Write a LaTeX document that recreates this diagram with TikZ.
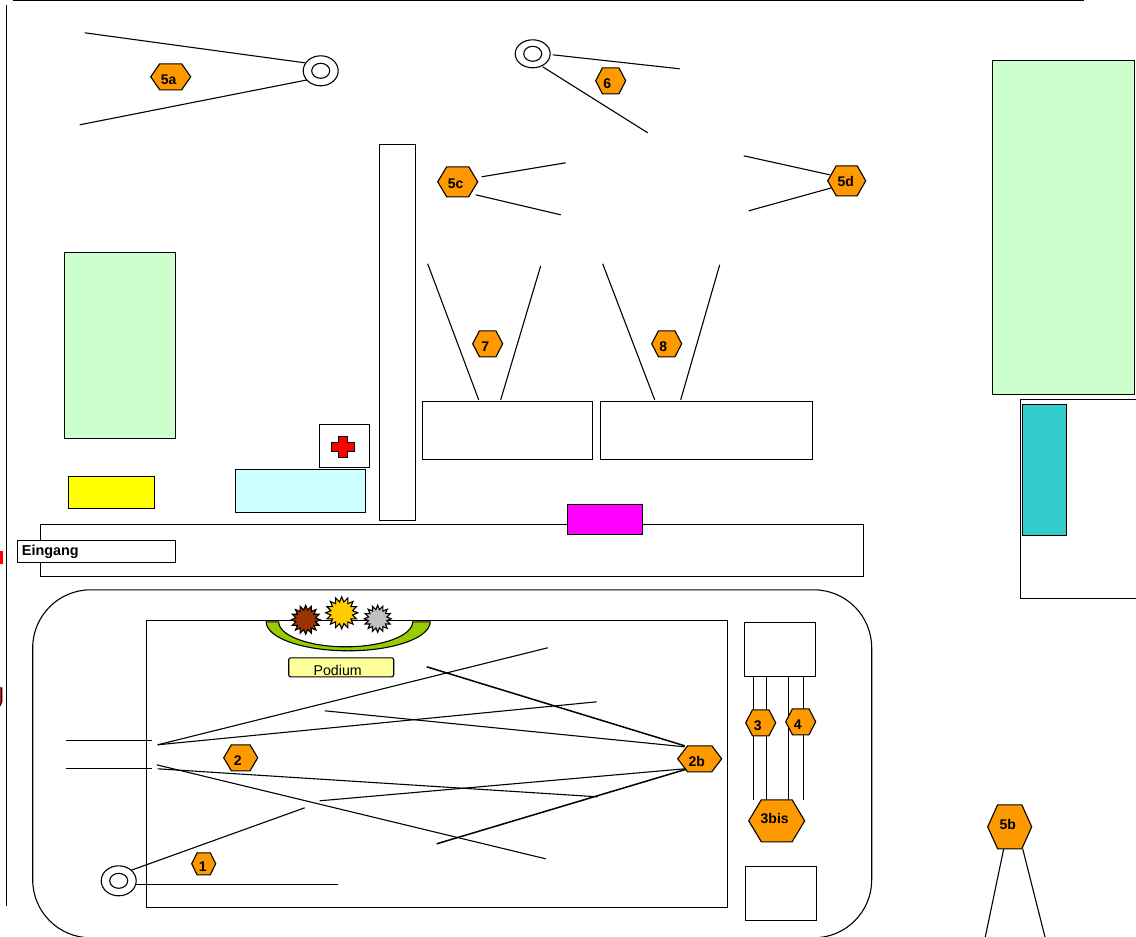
\documentclass[tikz,border=0pt]{standalone}
\usepackage{fontspec}
\setmainfont{Liberation Sans}
\usepackage{tikz}
\usetikzlibrary{shapes.geometric}
\definecolor{roomgreen}{HTML}{CCFFCC}
\definecolor{roomcyan}{HTML}{CCFFFF}
\definecolor{roomteal}{HTML}{33CCCC}
\definecolor{roomyellow}{HTML}{FFFF00}
\definecolor{roommagenta}{HTML}{FF00FF}
\definecolor{markorange}{HTML}{FF9900}
\definecolor{podiumyellow}{HTML}{FFFF99}
\definecolor{podiumgreen}{HTML}{99CC00}
\definecolor{starbrown}{HTML}{993300}
\definecolor{stargold}{HTML}{FFCC00}
\definecolor{stargrey}{HTML}{C0C0C0}
\tikzset{
  plan/.style={line width=1.1pt, black},
  hexmark/.style={plan, fill=markorange},
  hexlabel/.style={font=\bfseries\fontsize{14}{15}\selectfont, inner sep=0pt},
  burst/.style={plan, draw, star, star points=16, star point ratio=1.45, inner sep=0pt, minimum size=#1},
}
\newcommand\HexMark[8]{% name, x, y, half width, half height, label x, label y, text
  \draw[hexmark] (#2-#4, #3)--(#2-0.55*#4, #3-#5)--(#2+0.55*#4, #3-#5)
    --(#2+#4, #3)--(#2+0.55*#4, #3+#5)--(#2-0.55*#4, #3+#5)--cycle;
  \node[hexlabel] (#1) at (#6, #7) {#8};
}
\newcommand\RingMark[3]{% x, y, vertical radius
  \draw[plan, fill=white] (#1, #2) circle[x radius=17.5, y radius=#3];
  \draw[plan] (#1, #2) circle[x radius=9, y radius=7.5];
}
\begin{document}
\begin{tikzpicture}[x=1pt, y=-1pt]
  \clip (0,0) rectangle (1136,937);
  \begin{scope}[xshift=-0.3pt, yshift=0.2pt]

  \draw[plan] (13,1)--(1084,1);
  \draw[plan] (7,5)--(7,906);

  \fill[red] (0,551) rectangle (3,564);
  \draw[plan, fill=red] (-3,688)--(2,688)--(2,702) arc[start angle=0, end angle=90, radius=5]--(-3,707)--cycle;

  % rooms
  \draw[plan, fill=roomgreen] (65,253) rectangle (176,439);
  \draw[plan, fill=roomgreen] (993,61) rectangle (1135,395);
  \draw[plan] (1138,400)--(1021,400)--(1021,599)--(1138,599);
  \draw[plan, fill=roomteal] (1023,405) rectangle (1067,536);
  \draw[plan] (380,145) rectangle (416,521);
  \draw[plan] (423,402) rectangle (593,460);
  \draw[plan] (601,402) rectangle (813,460);
  \draw[plan, fill=roomyellow] (69,477) rectangle (155,509);
  \draw[plan, fill=roomcyan] (236,470) rectangle (366,513);
  \draw[plan] (320,425) rectangle (370,468);
  \draw[plan, fill=red] (339,437)--(348,437)--(348,443)--(355,443)--(355,452)--(348,452)
    --(348,458)--(339,458)--(339,452)--(332,452)--(332,443)--(339,443)--cycle;
  \draw[plan] (41,525) rectangle (864,577);
  \draw[plan, fill=roommagenta] (568,505) rectangle (643,535);
  \draw[plan, fill=white] (18,541) rectangle (176,563);
  \node[font=\bfseries\fontsize{14.4}{15}\selectfont, inner sep=0pt, anchor=west] (entry) at (22,552.5) {Eingang};

  % hall
  \draw[plan, rounded corners=58pt] (33,590) rectangle (872,938);
  \draw[plan, fill=podiumgreen] (266.5,622) arc[start angle=180, end angle=0, x radius=82, y radius=29]
    --(413,622) arc[start angle=0, end angle=180, x radius=67, y radius=25]--cycle;
  \draw[plan] (147,621) rectangle (728,908);
  \node[burst=29pt, fill=starbrown] (lampA) at (306,620) {};
  \node[burst=32pt, fill=stargold] (lampB) at (342,613) {};
  \node[burst=27pt, fill=stargrey] (lampC) at (378,619) {};
  \draw[plan, fill=podiumyellow, rounded corners=2pt] (289,658) rectangle (394,677);
  \node[font=\fontsize{14.2}{15}\selectfont, inner sep=0pt, anchor=base] (podium) at (338,676) {Podium};
  \draw[plan] (745,623) rectangle (816,677);
  \draw[plan] (746,867) rectangle (817,921);

  % sight lines
  \draw[plan] (85,33)--(305,63);
  \draw[plan] (80,125)--(308,80);
  \draw[plan] (553,55)--(680,69);
  \draw[plan] (543,67)--(648,133);
  \draw[plan] (482,177)--(566,163);
  \draw[plan] (476,195)--(561,215);
  \draw[plan] (744,156)--(830,175);
  \draw[plan] (749,211)--(832,188);
  \draw[plan] (428,264)--(479,400);
  \draw[plan] (541,266)--(501,400);
  \draw[plan] (603,264)--(655,400);
  \draw[plan] (720,265)--(681,400);
  \draw[plan] (66,741)--(152,741);
  \draw[plan] (66,769)--(152,769);
  \draw[plan] (158,745)--(548,648);
  \draw[plan] (158,745)--(597,702);
  \draw[plan] (325,711)--(685,747);
  \draw[plan, line width=1.5pt] (427,667)--(685,746);
  \draw[plan] (157,765)--(546,859);
  \draw[plan] (158,769)--(598,797);
  \draw[plan] (320,801)--(685,769);
  \draw[plan, line width=1.5pt] (437,844)--(688,769);
  \draw[plan] (130,871)--(305,808);
  \draw[plan] (136,885)--(338,885);
  \draw[plan] (754,677)--(754,800);
  \draw[plan] (767,677)--(767,800);
  \draw[plan] (789,677)--(789,800);
  \draw[plan] (804,677)--(804,800);
  \draw[plan] (1004,849)--(985,940);
  \draw[plan] (1023,849)--(1046,940);

  \RingMark{321}{71}{15}
  \RingMark{533}{54}{14}
  \RingMark{119}{881}{15}

  \HexMark{markFiveA}{171}{77}{20}{13}{169}{80}{5a}
  \HexMark{markSix}{611}{81}{15}{13}{607.5}{84}{6}
  \HexMark{markFiveC}{458}{182}{20}{15}{456}{184}{5c}
  \HexMark{markFiveD}{847}{181}{19}{15}{846}{182}{5d}
  \HexMark{markSeven}{488}{344}{15}{13}{485.5}{347}{7}
  \HexMark{markEight}{667}{344}{15}{13}{663.5}{347}{8}
  \HexMark{markTwo}{241}{758}{17}{13}{238}{761}{2}
  \HexMark{markTwoB}{700}{759}{22}{13}{697}{762}{2b}
  \HexMark{markThree}{761}{723}{15}{13}{758}{726}{3}
  \HexMark{markFour}{801}{722}{15}{13}{798}{725}{4}
  \HexMark{markThreeBis}{777}{821}{28}{21}{775}{818.5}{3bis}
  \HexMark{markFiveB}{1010}{827}{22}{22}{1008}{824.5}{5b}
  \HexMark{markOne}{204}{864}{12}{11}{203}{867}{1}
  \end{scope}
\end{tikzpicture}
\end{document}
